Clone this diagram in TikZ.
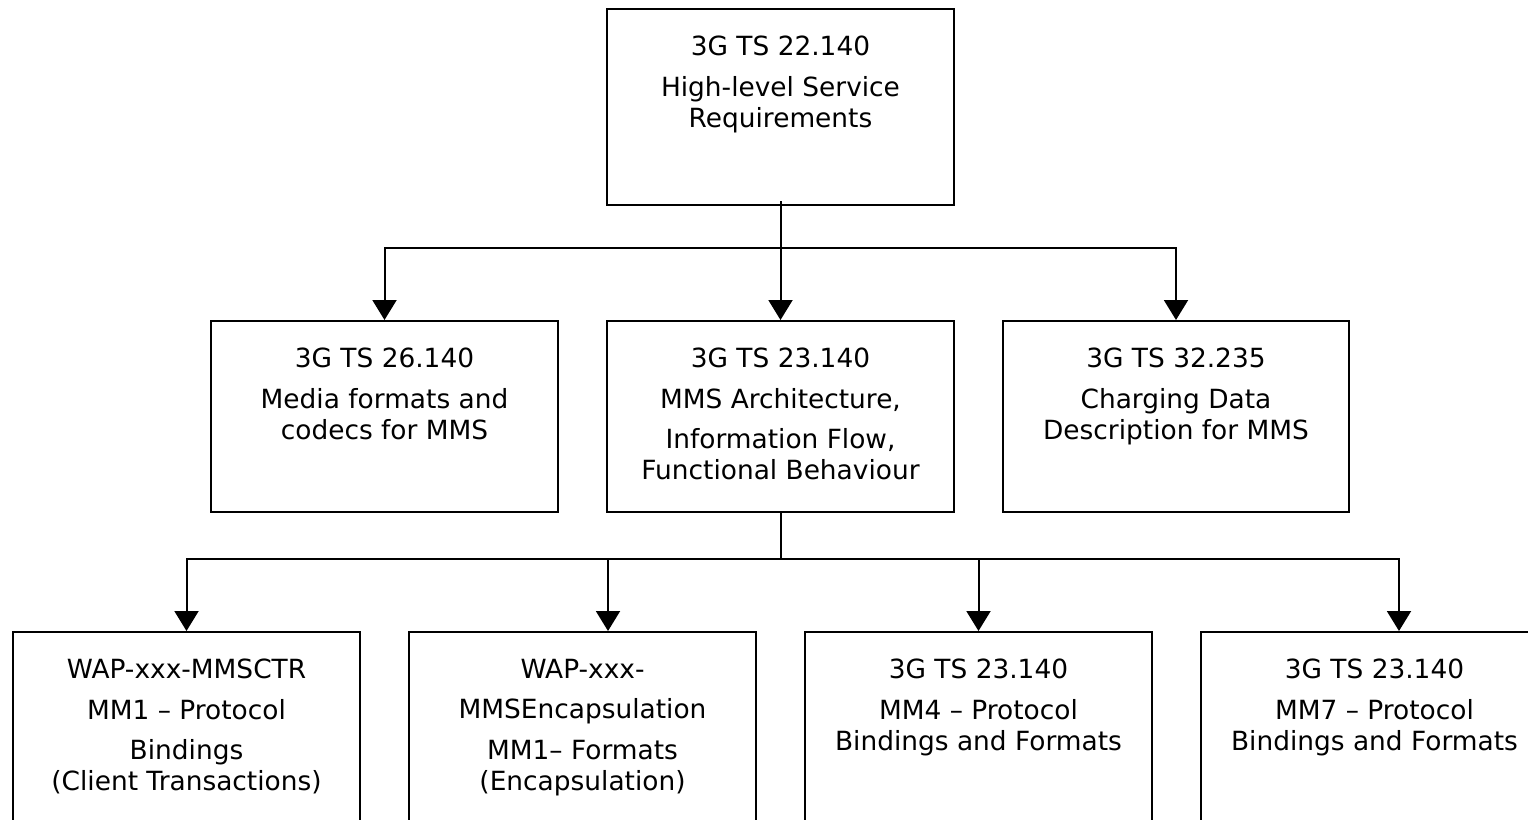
\documentclass[tikz,border=0pt]{standalone}
\usepackage{fontspec}
\setmainfont{DejaVu Sans}
\usetikzlibrary{arrows.meta}

\begin{document}
\begin{tikzpicture}[x=0.5pt, y=-0.5pt,
  specbox/.style={draw, line width=1pt, inner sep=0pt, anchor=north west,
    minimum width=173.5pt},
  midbox/.style={specbox, minimum height=95.5pt},
  lowbox/.style={specbox, minimum height=114.5pt},
  spectext/.style={inner sep=0pt, anchor=north, align=center,
    font=\fontsize{13.2pt}{15.5pt}\selectfont},
  link/.style={line width=1pt},
  arr/.style={link, -{Triangle[width=12pt, length=10pt]}}
]
\useasboundingbox (0,0) rectangle (1528,820);
\fill[white] (0,0) rectangle (1528,820);
\clip (0,0) rectangle (1528,820);

% top level
\node[specbox, minimum height=98pt] (top) at (606,8) {};
\node[spectext] (toptxt) at ([yshift=-13.9pt]top.north)
  {3G TS 22.140\\[5pt] High-level Service\\ Requirements};

% second level
\node[midbox] (m1) at (210,320) {};
\node[midbox] (m2) at (606,320) {};
\node[midbox, minimum width=173pt] (m3) at (1002,320) {};
\node[spectext] (m1txt) at ([yshift=-13.9pt]m1.north)
  {3G TS 26.140\\[4.7pt] Media formats and\\ codecs for MMS};
\node[spectext] (m2txt) at ([yshift=-13.9pt]m2.north)
  {3G TS 23.140\\[4.7pt] MMS Architecture,\\[4.7pt] Information Flow,\\ Functional Behaviour};
\node[spectext] (m3txt) at ([yshift=-13.9pt]m3.north)
  {3G TS 32.235\\[4.7pt] Charging Data\\ Description for MMS};

% third level
\node[lowbox] (b1) at (12,631) {};
\node[lowbox] (b2) at (408,631) {};
\node[lowbox] (b3) at (804,631) {};
\node[lowbox] (b4) at (1200,631) {};
\node[spectext] (b1txt) at ([yshift=-13.9pt]b1.north)
  {WAP-xxx-MMSCTR\\[4.7pt] MM1 – Protocol\\[4.7pt] Bindings\\ (Client Transactions)};
\node[spectext] (b2txt) at ([yshift=-13.9pt]b2.north)
  {WAP-xxx-\\[4.7pt] MMSEncapsulation\\[4.7pt] MM1– Formats\\ (Encapsulation)};
\node[spectext] (b3txt) at ([yshift=-13.9pt]b3.north)
  {3G TS 23.140\\[4.7pt] MM4 – Protocol\\ Bindings and Formats};
\node[spectext] (b4txt) at ([yshift=-13.9pt]b4.north)
  {3G TS 23.140\\[4.7pt] MM7 – Protocol\\ Bindings and Formats};

% connectors
\path (top.south) ++(0,42) coordinate (j1);
\path (m2.south) ++(0,46) coordinate (j2);
\draw[link] ([yshift=2.5pt]top.south) -- (j1);
\draw[arr] (j1) -| (m1.north);
\draw[arr] (j1) -- (m2.north);
\draw[arr] (j1) -| (m3.north);

\draw[link] (m2.south) -- (j2);
\draw[arr] (j2) -| (b1.north);
\draw[arr] (j2) -| ([xshift=12.75pt]b2.north);
\draw[arr] (j2) -| (b3.north);
\draw[arr] (j2) -| ([xshift=12.25pt]b4.north);
\end{tikzpicture}
\end{document}
